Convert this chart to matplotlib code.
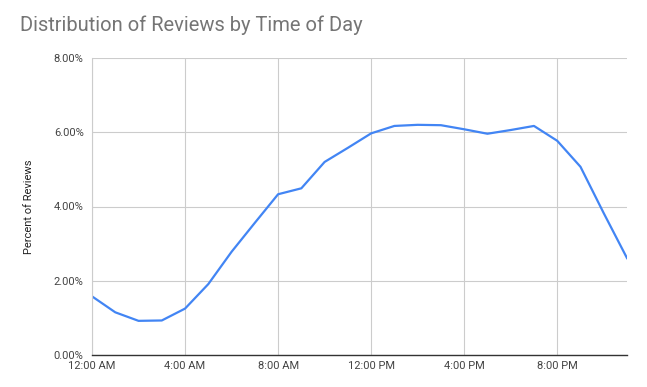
import numpy as np
import matplotlib.pyplot as plt
from matplotlib.ticker import FuncFormatter

plt.rcParams['font.family'] = ['Roboto', 'DejaVu Sans']

# hour of day (0 = 12:00 AM) and share of reviews in percent
hours = list(range(24))
pct_reviews = [1.58, 1.15, 0.92, 0.93, 1.25, 1.91, 2.78, 3.56, 4.33, 4.49,
               5.20, 5.58, 5.97, 6.17, 6.20, 6.19, 6.08, 5.96, 6.06, 6.17,
               5.77, 5.07, 3.82, 2.61]
tick_hours = [0, 4, 8, 12, 16, 20]
tick_labels = ["12:00 AM", "4:00 AM", "8:00 AM", "12:00 PM", "4:00 PM", "8:00 PM"]

fig = plt.figure(figsize=(6.47, 3.87), dpi=100)
ax = fig.add_axes([92 / 647, 1 - 355 / 387, 535 / 647, 297 / 387])

ax.plot(hours, pct_reviews, color="#4285f4", lw=1.6, solid_joinstyle="round")

ax.set_xlim(0, 23)
ax.set_ylim(0, 8)
ax.set_xticks(tick_hours)
ax.set_xticklabels(tick_labels)
ax.set_yticks([0, 2, 4, 6, 8])
ax.yaxis.set_major_formatter(FuncFormatter(lambda v, p: f"{v:.2f}%"))
ax.tick_params(length=0, labelsize=8, colors="#444444")
ax.tick_params(axis="x", pad=4)
ax.tick_params(axis="y", pad=6)
ax.grid(color="#cccccc", lw=0.8)
ax.set_axisbelow(True)
for s in ["top", "right"]:
    ax.spines[s].set_visible(False)
ax.spines["left"].set_color("#cccccc")
ax.spines["left"].set_linewidth(0.8)
ax.spines["bottom"].set_color("#333333")
ax.spines["bottom"].set_linewidth(1.0)
ax.set_ylabel("Percent of Reviews", fontsize=8, color="#222222", labelpad=14)

fig.text(20 / 647, 1 - 25 / 387, "Distribution of Reviews by Time of Day",
         fontsize=14.5, color="#757575", va="center", ha="left")

fig.savefig("out.png", dpi=100, facecolor="white")
